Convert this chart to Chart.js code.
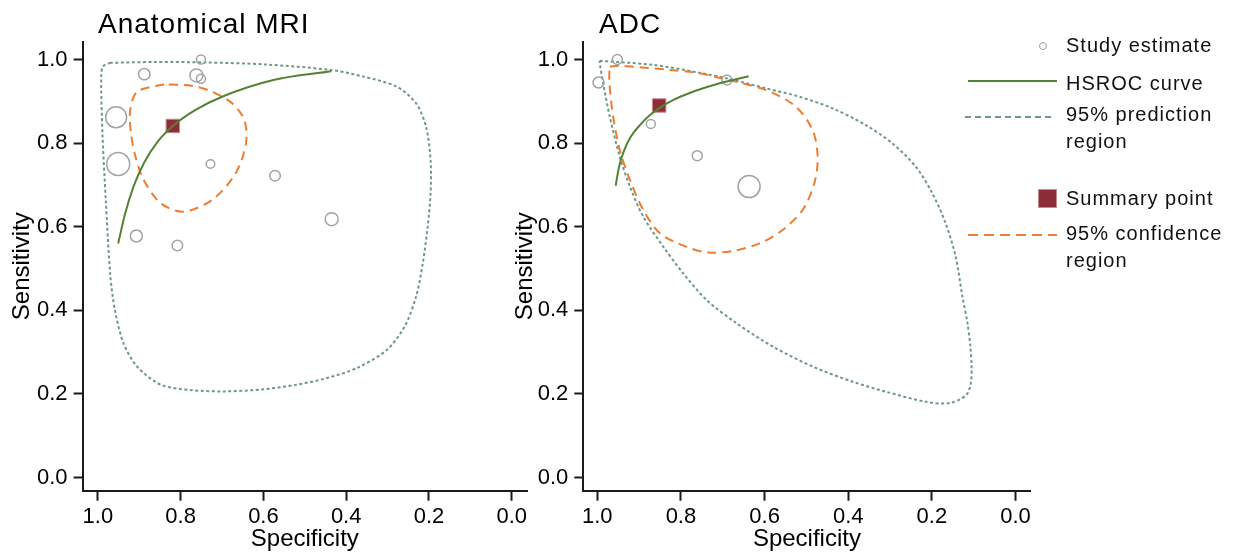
<!DOCTYPE html>
<html>
<head>
<meta charset="utf-8">
<script src="https://cdn.jsdelivr.net/npm/chart.js@4.4.1/dist/chart.umd.min.js"></script>
<style>
  body { margin: 0; background: #fff; font-family: "Liberation Sans", Arial, sans-serif; }
  #page { position: relative; width: 1239px; height: 552px; overflow: hidden; }
  canvas { position: absolute; top: 0; }
  .ttl { position: absolute; font-size: 28px; line-height: 28px; letter-spacing: 1px; color: #000; white-space: nowrap; }
  .lg { position: absolute; left: 1066px; font-size: 20px; line-height: 20px; letter-spacing: 1px; color: #111; white-space: nowrap; }
  .sample { position: absolute; }
</style>
</head>
<body>
<div id="page">
  <canvas id="mri" width="540" height="552" style="left:0px;width:540px;height:552px"></canvas>
  <canvas id="adc" width="540" height="552" style="left:503px;width:540px;height:552px"></canvas>

  <div class="ttl" style="left:98px;top:10px">Anatomical MRI</div>
  <div class="ttl" style="left:599px;top:10px">ADC</div>

  <div class="sample" style="left:1039px;top:42px;width:6px;height:6px;border:1.5px solid #a0a0a0;border-radius:50%"></div>
  <div class="lg" style="top:35px">Study estimate</div>
  <div class="sample" style="left:968px;top:80px;width:89px;height:2px;background:#548235"></div>
  <div class="lg" style="top:73px">HSROC curve</div>
  <div class="sample" style="left:965px;top:116px;width:90px;height:2px;background:repeating-linear-gradient(90deg,#6f978a 0 6px,transparent 6px 10px)"></div>
  <div class="lg" style="top:104px">95% prediction</div>
  <div class="lg" style="top:131px">region</div>
  <div class="sample" style="left:1038px;top:189px;width:17px;height:17px;background:#8c2d37;border:1px solid #c98a92"></div>
  <div class="lg" style="top:188px">Summary point</div>
  <div class="sample" style="left:968px;top:234px;width:89px;height:2px;background:repeating-linear-gradient(90deg,#ed7d31 0 10px,transparent 10px 16px)"></div>
  <div class="lg" style="top:223px">95% confidence</div>
  <div class="lg" style="top:250px">region</div>
</div>
<script>
const tickValues = [0, 0.2, 0.4, 0.6, 0.8, 1.0];

// Anatomical MRI
const mriStudySpec = [0.751, 0.888, 0.762, 0.751, 0.956, 0.951, 0.728, 0.572, 0.435, 0.907, 0.808];
const mriStudySens = [1.0, 0.965, 0.962, 0.954, 0.862, 0.750, 0.750, 0.722, 0.618, 0.578, 0.555];
const mriStudyWeight = [4.5, 5.7, 6.5, 4.5, 10.5, 11.5, 4.3, 5.3, 6.5, 6.0, 5.3];
const mriSummary = [0.819, 0.841];
const mriCurveSpec = [0.951, 0.934, 0.914, 0.889, 0.856, 0.819, 0.765, 0.700, 0.576, 0.436];
const mriCurveSens = [0.560, 0.632, 0.696, 0.752, 0.803, 0.841, 0.879, 0.911, 0.951, 0.972];
const mriConfSpec = [0.840, 0.905, 0.922, 0.920, 0.909, 0.889, 0.848, 0.794, 0.724, 0.667, 0.642, 0.646, 0.675, 0.724, 0.774];
const mriConfSens = [0.941, 0.923, 0.879, 0.823, 0.767, 0.711, 0.656, 0.636, 0.664, 0.728, 0.800, 0.855, 0.895, 0.923, 0.937];
const mriPredSpec = [0.971, 0.864, 0.741, 0.593, 0.438, 0.358, 0.278, 0.231, 0.207, 0.196, 0.196, 0.203, 0.215, 0.231, 0.259, 0.302, 0.374, 0.446, 0.520, 0.600, 0.690, 0.774, 0.848, 0.905, 0.938, 0.959, 0.970, 0.981, 0.989, 0.992, 0.988];
const mriPredSens = [0.992, 0.994, 0.993, 0.988, 0.975, 0.959, 0.935, 0.895, 0.839, 0.759, 0.680, 0.600, 0.512, 0.433, 0.361, 0.305, 0.262, 0.238, 0.222, 0.211, 0.206, 0.209, 0.222, 0.265, 0.321, 0.401, 0.484, 0.664, 0.823, 0.959, 0.983];

// ADC
const adcStudySpec = [0.952, 0.997, 0.690, 0.872, 0.761, 0.637];
const adcStudySens = [1.0, 0.945, 0.951, 0.846, 0.770, 0.696];
const adcStudyWeight = [5.0, 5.5, 5.0, 4.5, 5.0, 11.0];
const adcSummary = [0.852, 0.890];
const adcCurveSpec = [0.956, 0.948, 0.936, 0.920, 0.898, 0.874, 0.850, 0.819, 0.779, 0.707, 0.638];
const adcCurveSens = [0.698, 0.743, 0.782, 0.815, 0.843, 0.867, 0.885, 0.903, 0.920, 0.943, 0.960];
const adcConfSpec = [0.970, 0.946, 0.826, 0.755, 0.691, 0.596, 0.525, 0.485, 0.473, 0.481, 0.509, 0.557, 0.612, 0.676, 0.735, 0.787, 0.850, 0.890, 0.922, 0.946, 0.962, 0.971, 0.971];
const adcConfSens = [0.983, 0.985, 0.975, 0.967, 0.952, 0.927, 0.887, 0.831, 0.767, 0.704, 0.640, 0.592, 0.560, 0.542, 0.538, 0.552, 0.584, 0.640, 0.712, 0.783, 0.863, 0.943, 0.971];
const adcPredSpec = [0.994, 0.866, 0.755, 0.691, 0.596, 0.517, 0.437, 0.358, 0.294, 0.238, 0.199, 0.167, 0.143, 0.127, 0.115, 0.108, 0.105, 0.107, 0.118, 0.158, 0.214, 0.309, 0.389, 0.484, 0.580, 0.667, 0.739, 0.795, 0.842, 0.890, 0.922, 0.946, 0.970, 0.986, 0.994];
const adcPredSens = [0.997, 0.987, 0.968, 0.955, 0.931, 0.911, 0.883, 0.843, 0.799, 0.743, 0.680, 0.608, 0.528, 0.433, 0.370, 0.313, 0.265, 0.225, 0.197, 0.178, 0.181, 0.205, 0.229, 0.265, 0.313, 0.369, 0.425, 0.489, 0.552, 0.624, 0.696, 0.767, 0.863, 0.943, 0.991];

function toPoints(xs, ys, close) {
    let pts = xs.map((x, i) => ({ x: x, y: ys[i] }));
    if (close) pts.push(pts[0]);
    return pts;
}

function makePanel(id, p) {
    const tickFont = { family: "'Liberation Sans', Arial", size: 22 };
    const titleFont = { family: "'Liberation Sans', Arial", size: 24, lineHeight: 1 };
    const axisColor = '#1a1a1a';
    const setTicks = scale => { scale.ticks = tickValues.map(v => ({ value: v })); };
    return new Chart(document.getElementById(id), {
        type: 'scatter',
        data: {
            datasets: [
                {
                    label: 'HSROC curve',
                    data: toPoints(p.curveSpec, p.curveSens, false),
                    showLine: true, borderColor: '#548235', borderWidth: 2,
                    pointRadius: 0, cubicInterpolationMode: 'monotone', fill: false
                },
                {
                    label: 'Summary point',
                    data: [{ x: p.summary[0], y: p.summary[1] }],
                    pointStyle: 'rect', pointRadius: 9.5,
                    backgroundColor: '#8c2d37', borderColor: '#c98a92', borderWidth: 1
                },
                {
                    label: 'Study estimate',
                    data: toPoints(p.studySpec, p.studySens, false),
                    pointRadius: ctx => p.studyWeight[ctx.dataIndex],
                    backgroundColor: 'rgba(0,0,0,0)', borderColor: '#a3a3a3', borderWidth: 1.5
                },
                {
                    label: '95% confidence region',
                    data: toPoints(p.confSpec, p.confSens, true),
                    showLine: true, borderColor: '#ed7d31', borderWidth: 2, borderDash: [9, 6],
                    pointRadius: 0, tension: 0.3, fill: false
                },
                {
                    label: '95% prediction region',
                    data: toPoints(p.predSpec, p.predSens, true),
                    showLine: true, borderColor: '#6f978a', borderWidth: 2, borderDash: [3, 2.5],
                    pointRadius: 0, tension: 0.3, fill: false
                }
            ]
        },
        options: {
            responsive: false,
            animation: false,
            events: [],
            layout: { padding: { top: 41.7, right: p.padRight, left: 0, bottom: 0 } },
            plugins: { legend: { display: false }, tooltip: { enabled: false } },
            scales: {
                x: {
                    type: 'linear', reverse: true, min: p.xMin, max: p.xMax,
                    afterBuildTicks: setTicks,
                    afterFit: scale => { scale.height = 61.3; },
                    border: { display: true, color: axisColor, width: 2 },
                    grid: { drawOnChartArea: false, drawTicks: true, tickLength: 10, tickWidth: 2, tickColor: axisColor },
                    ticks: { font: tickFont, color: '#000', padding: 3, maxRotation: 0, callback: v => v.toFixed(1) },
                    title: { display: true, text: 'Specificity', font: titleFont, color: '#000', padding: { top: 0, bottom: 1 } }
                },
                y: {
                    type: 'linear', min: -0.0316, max: 1.0426,
                    afterBuildTicks: setTicks,
                    afterFit: scale => { scale.width = p.yAxisWidth; },
                    border: { display: true, color: axisColor, width: 2 },
                    grid: { drawOnChartArea: false, drawTicks: true, tickLength: 9, tickWidth: 2, tickColor: axisColor },
                    ticks: { font: tickFont, color: '#000', padding: 6, callback: v => v.toFixed(1) },
                    title: { display: true, text: 'Sensitivity', font: titleFont, color: '#000', padding: { top: 10, bottom: 0 } }
                }
            }
        }
    });
}

makePanel('mri', {
    studySpec: mriStudySpec, studySens: mriStudySens, studyWeight: mriStudyWeight,
    summary: mriSummary, curveSpec: mriCurveSpec, curveSens: mriCurveSens,
    confSpec: mriConfSpec, confSens: mriConfSens, predSpec: mriPredSpec, predSens: mriPredSens,
    xMin: -0.037, xMax: 1.037, padRight: 8, yAxisWidth: 82.6
});

makePanel('adc', {
    studySpec: adcStudySpec, studySens: adcStudySens, studyWeight: adcStudyWeight,
    summary: adcSummary, curveSpec: adcCurveSpec, curveSens: adcCurveSens,
    confSpec: adcConfSpec, confSens: adcConfSens, predSpec: adcPredSpec, predSens: adcPredSens,
    xMin: -0.0358, xMax: 1.0334, padRight: 11.3, yAxisWidth: 80.3
});
</script>
</body>
</html>
